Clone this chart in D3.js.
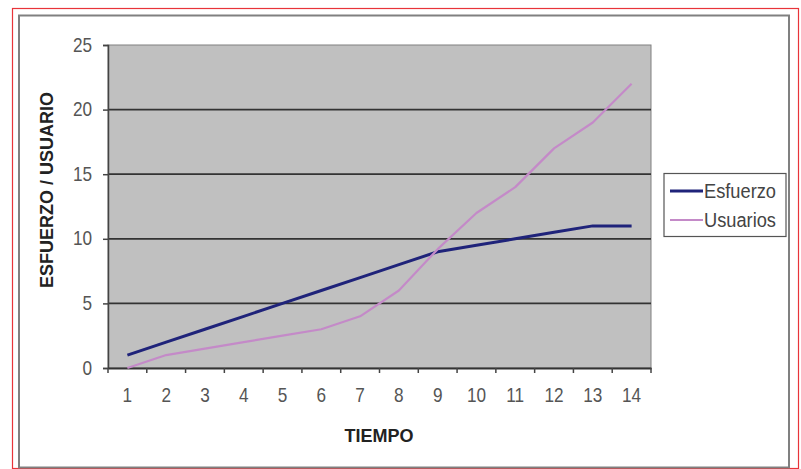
<!DOCTYPE html>
<html><head><meta charset="utf-8">
<script src="https://cdn.jsdelivr.net/npm/d3@7/dist/d3.min.js"></script>
<style>body{margin:0;background:#fff}svg{display:block}</style>
</head><body><svg id="c" width="801" height="469"></svg>
<script>
const categories = [1,2,3,4,5,6,7,8,9,10,11,12,13,14];
const esfuerzo = [1,2,3,4,5,6,7,8,9,9.5,10,10.5,11,11];
const usuarios = [0,1,1.5,2,2.5,3,4,6,9.2,12,14,17,19,22];
const yTicks = [0,5,10,15,20,25];
const seriesNames = ["Esfuerzo","Usuarios"];
const seriesColors = ["#1f237a","#c48ac8"];

const svg = d3.select("#c");
const font = "Arial, 'Liberation Sans', sans-serif";
const sx = 0.86;
// outer frames
svg.append("rect").attr("x",12.5).attr("y",8.5).attr("width",786).attr("height",460).attr("fill","none").attr("stroke","#e8343a").attr("stroke-width",1.2);
svg.append("rect").attr("x",19).attr("y",15.5).attr("width",770).attr("height",452).attr("fill","#fff").attr("stroke","#808080").attr("stroke-width",2);

const L=108,R=651,T=45,B=368;
const x = d3.scaleBand().domain(categories).range([L,R]);
const y = d3.scaleLinear().domain([0,25]).range([B,T]);

svg.append("rect").attr("x",L).attr("y",T).attr("width",R-L).attr("height",B-T).attr("fill","#c0c0c0").attr("stroke","#808080").attr("stroke-width",1);

// gridlines
svg.append("g").selectAll("line").data(yTicks.filter(d=>d>0&&d<25)).join("line")
  .attr("x1",L).attr("x2",R).attr("y1",d=>y(d)).attr("y2",d=>y(d)).attr("stroke","#333").attr("stroke-width",1.8);

// y axis
const ya = svg.append("g").attr("transform",`translate(${L},0)`).call(d3.axisLeft(y).tickValues(yTicks).tickSize(5).tickPadding(11));
ya.select(".domain").attr("stroke","#444").attr("stroke-width",1.5);
ya.selectAll(".tick line").attr("stroke","#444").attr("stroke-width",1.5);
ya.selectAll("text").attr("font-family",font).attr("font-size",20).attr("fill","#555").attr("dy","0.3em")
  .attr("x",-16/sx).attr("transform",`scale(${sx},1)`);

// x axis
const xa = svg.append("g").attr("transform",`translate(0,${B})`).call(d3.axisBottom(x).tickSize(0).tickPadding(20));
xa.select(".domain").attr("stroke","#333").attr("stroke-width",2);
xa.selectAll("text").attr("font-family",font).attr("font-size",20).attr("fill","#555").attr("transform",`scale(${sx},1)`);
const bounds = categories.map(c=>x(c)).concat([R]);
svg.append("g").selectAll("line").data(bounds).join("line")
  .attr("x1",d=>d).attr("x2",d=>d).attr("y1",B).attr("y2",B+5).attr("stroke","#444").attr("stroke-width",1.5);

// lines
const line = d3.line().x((d,i)=>x(categories[i])+x.bandwidth()/2).y(d=>y(d));
[esfuerzo,usuarios].forEach((s,i)=>{
  svg.append("path").datum(s).attr("d",line).attr("fill","none").attr("stroke",seriesColors[i]).attr("stroke-width",i===0?3:2.2).attr("stroke-linejoin","round");
});

// axis titles
svg.append("text").attr("x",379).attr("y",442).attr("text-anchor","middle").attr("font-family",font).attr("font-weight","bold").attr("font-size",18).attr("fill","#222").text("TIEMPO");
svg.append("text").attr("transform","translate(53,190) rotate(-90)").attr("text-anchor","middle").attr("font-family",font).attr("font-weight","bold").attr("font-size",18).attr("fill","#222").text("ESFUERZO / USUARIO");

// legend
const lg = svg.append("g");
lg.append("rect").attr("x",664).attr("y",173.5).attr("width",122).attr("height",63).attr("fill","#fff").attr("stroke","#555").attr("stroke-width",1.2);
seriesNames.forEach((n,i)=>{
  const yy = 191 + i*29;
  lg.append("line").attr("x1",670).attr("x2",703).attr("y1",yy).attr("y2",yy).attr("stroke",seriesColors[i]).attr("stroke-width",i===0?3:2.2);
  lg.append("text").attr("x",704).attr("y",yy+7).attr("font-family",font).attr("font-size",20).attr("fill","#444")
    .attr("textLength",72).attr("lengthAdjust","spacingAndGlyphs").text(n);
});
</script></body></html>
